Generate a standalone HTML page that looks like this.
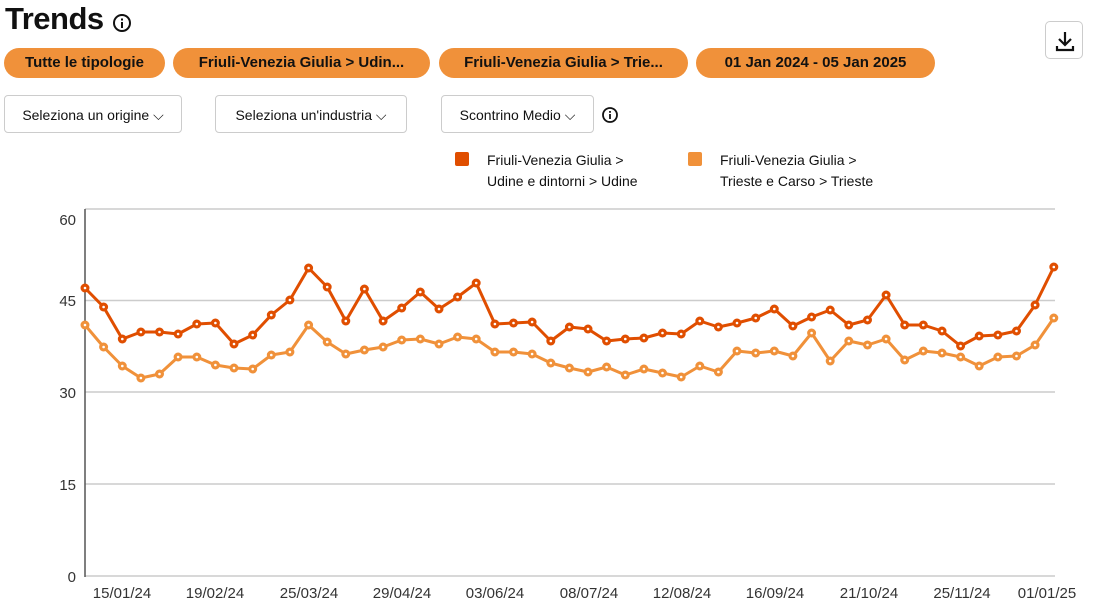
<!DOCTYPE html>
<html><head><meta charset="utf-8"><style>
body{margin:0;width:1100px;height:605px;background:#fff;font-family:"Liberation Sans",sans-serif;position:relative;overflow:hidden;color:#111}
.a{position:absolute}
.pill{position:absolute;top:48px;height:30px;border-radius:15px;background:#f0913a;font-weight:bold;font-size:15px;line-height:30px;text-align:center;color:#111}
.dd{position:absolute;top:95px;height:38px;border:1px solid #ccc;border-radius:4px;font-size:14px;line-height:38px;text-align:center;box-sizing:border-box}
</style></head><body>
<div class="a" style="left:5px;top:1px;font-size:31px;font-weight:bold;letter-spacing:-0.5px">Trends</div>
<svg class="a" style="left:112px;top:13px" width="20" height="20"><circle cx="10" cy="10" r="8" fill="none" stroke="#111" stroke-width="2"/><rect x="9" y="9" width="2" height="6" fill="#111"/><rect x="9" y="5.5" width="2" height="2" fill="#111"/></svg>
<div class="a" style="left:1045px;top:21px;width:38px;height:38px;border:1px solid #ccc;border-radius:5px;box-sizing:border-box"><svg width="38" height="38"><path d="M19 10v13M13 17l6 6 6-6M11 24v4h16v-4" fill="none" stroke="#111" stroke-width="2.2"/></svg></div>
<div class="pill" style="left:4px;width:161px">Tutte le tipologie</div>
<div class="pill" style="left:173px;width:257px">Friuli-Venezia Giulia &gt; Udin...</div>
<div class="pill" style="left:439px;width:249px">Friuli-Venezia Giulia &gt; Trie...</div>
<div class="pill" style="left:696px;width:239px">01 Jan 2024 - 05 Jan 2025</div>
<div class="dd" style="left:4px;width:178px">Seleziona un origine ⌵</div>
<div class="dd" style="left:215px;width:192px">Seleziona un'industria ⌵</div>
<div class="dd" style="left:441px;width:153px">Scontrino Medio ⌵</div>
<svg class="a" style="left:601px;top:106px" width="18" height="18"><circle cx="9" cy="9" r="7" fill="none" stroke="#111" stroke-width="1.8"/><rect x="8.1" y="8" width="1.8" height="5" fill="#111"/><rect x="8.1" y="5" width="1.8" height="1.8" fill="#111"/></svg>
<div class="a" style="left:455px;top:152px;width:14px;height:14px;background:#e04e00;border-radius:2px"></div>
<div class="a" style="left:487px;top:150px;font-size:14px;line-height:21px">Friuli-Venezia Giulia &gt;<br>Udine e dintorni &gt; Udine</div>
<div class="a" style="left:688px;top:152px;width:14px;height:14px;background:#f0913a;border-radius:2px"></div>
<div class="a" style="left:720px;top:150px;font-size:14px;line-height:21px">Friuli-Venezia Giulia &gt;<br>Trieste e Carso &gt; Trieste</div>
<svg class="a" style="left:0;top:0" width="1100" height="605" font-family="Liberation Sans,sans-serif" font-size="15" fill="#333">
<g stroke="#ccc" stroke-width="1.5"><line x1="85" x2="1055" y1="209" y2="209"/><line x1="85" x2="1055" y1="300.5" y2="300.5"/><line x1="85" x2="1055" y1="392" y2="392"/><line x1="85" x2="1055" y1="484" y2="484"/><line x1="85" x2="1055" y1="576" y2="576"/></g>
<line x1="85" x2="85" y1="209" y2="577" stroke="#555" stroke-width="1.5"/>
<g text-anchor="end"><text x="76" y="225">60</text><text x="76" y="306">45</text><text x="76" y="398">30</text><text x="76" y="490">15</text><text x="76" y="582">0</text></g>
<g text-anchor="middle"><text x="122" y="598">15/01/24</text><text x="215" y="598">19/02/24</text><text x="309" y="598">25/03/24</text><text x="402" y="598">29/04/24</text><text x="495" y="598">03/06/24</text><text x="589" y="598">08/07/24</text><text x="682" y="598">12/08/24</text><text x="775" y="598">16/09/24</text><text x="869" y="598">21/10/24</text><text x="962" y="598">25/11/24</text><text x="1047" y="598">01/01/25</text></g>
<g id="s"></g>
</svg>
<script>
var d=[288,307,339,332,332,334,324,323,344,335,315,300,268,287,321,289,321,308,292,309,297,283,324,323,322,341,327,329,341,339,338,333,334,321,327,323,318,309,326,317,310,325,320,295,325,325,331,346,336,335,331,305,267];
var l=[325,347,366,378,374,357,357,365,368,369,355,352,325,342,354,350,347,340,339,344,337,339,352,352,354,363,368,372,367,375,369,373,377,366,372,351,353,351,356,333,361,341,345,339,360,351,353,357,366,357,356,345,318];
function draw(a,c){var p=a.map((y,i)=>(85+i*18.63).toFixed(1)+','+y).join(' ');var s='<polyline points="'+p+'" fill="none" stroke="'+c+'" stroke-width="3" stroke-linejoin="round"/>';a.forEach((y,i)=>{var x=(85+i*18.63).toFixed(1);s+='<circle cx="'+x+'" cy="'+y+'" r="4.5" fill="'+c+'"/><circle cx="'+x+'" cy="'+y+'" r="1.3" fill="#fff"/>'});return s;}
document.getElementById('s').innerHTML=draw(l,'#f0913a')+draw(d,'#e04e00');
</script>
</body></html>
